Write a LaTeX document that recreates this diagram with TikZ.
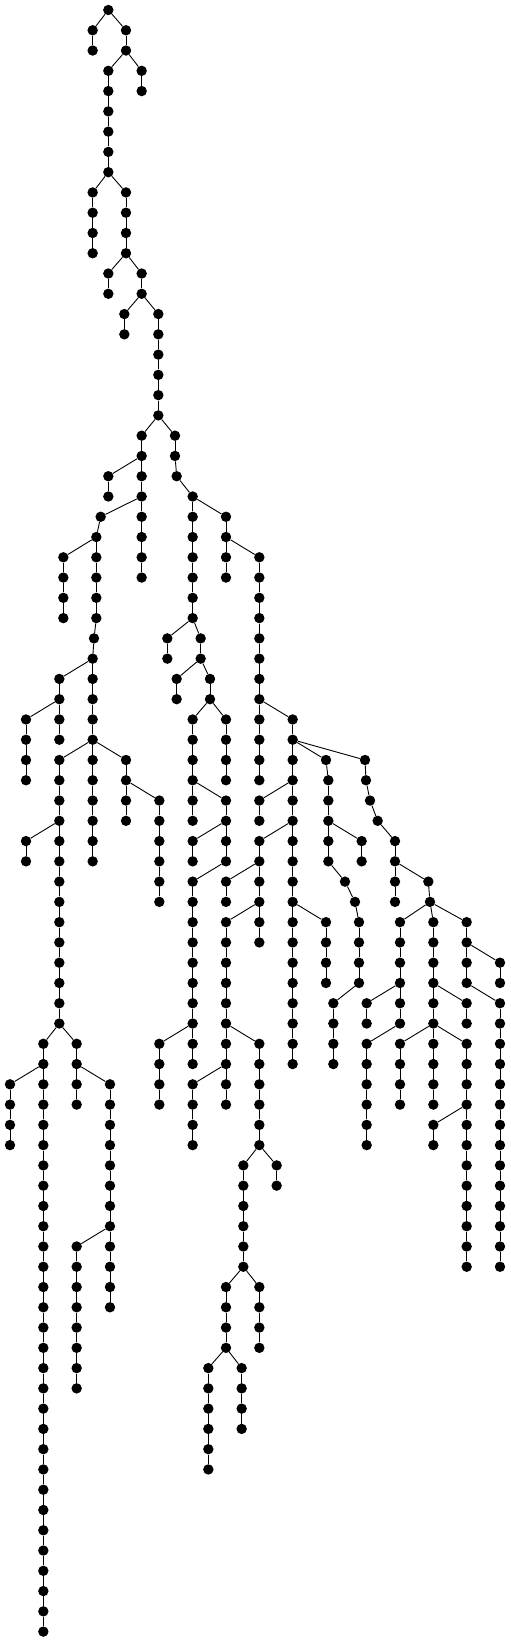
\documentclass[tikz,border=0pt]{standalone}
\begin{document}
\tikzset{
  dot/.style={circle,fill=black,draw=none,inner sep=0pt,minimum size=10.4pt},
  edge/.style={line width=0.9pt,black}
}
\newcommand\seg[5]{%
  \foreach \l in {#3,...,#4}{\node[dot] (#1r\l) at ({#2/3},{10+20.27*\l}) {};}%
  \foreach \l in {#3,...,#4}{\ifnum\l>#3\relax\pgfmathtruncatemacro\p{\l-1}\draw[edge] (#1r\p) -- (#1r\l);\fi}%
  \draw[edge] (#5) -- (#1r#3);%
}
\begin{tikzpicture}[x=1pt,y=-1pt]
\useasboundingbox (0,0) rectangle (511,1642);
\node[dot] (Rr0) at ({325/3},10) {};
\seg{A}{278}{1}{2}{Rr0}
\seg{B}{378}{1}{2}{Rr0}
\seg{C}{325}{3}{8}{Br2}
\seg{D}{425}{3}{4}{Br2}
\seg{E}{278}{9}{12}{Cr8}
\seg{F}{378}{9}{12}{Cr8}
\seg{G}{325}{13}{14}{Fr12}
\seg{H}{425}{13}{14}{Fr12}
\seg{I}{373}{15}{16}{Hr14}
\seg{J}{475}{15}{20}{Hr14}
\seg{K}{425}{21}{22}{Jr20}
\seg{L}{525}{21}{22}{Jr20}
\seg{M}{325}{23}{24}{Kr22}
\seg{N}{425}{23}{28}{Kr22}
\seg{O}{302}{25}{25}{Nr24}
\seg{P}{289}{26}{30}{Or25}
\seg{Q}{190}{27}{30}{Pr26}
\seg{S}{282}{31}{31}{Pr30}
\seg{T}{278}{32}{36}{Sr31}
\seg{U}{178}{33}{36}{Tr32}
\seg{V}{78}{35}{38}{Ur34}
\seg{W}{178}{37}{50}{Tr36}
\seg{X}{78}{41}{42}{Wr40}
\seg{Y}{130}{51}{80}{Wr50}
\seg{Z}{30}{53}{56}{Yr52}
\seg{AA}{230}{51}{54}{Wr50}
\seg{AB}{330}{53}{64}{AAr52}
\seg{AC}{230}{61}{68}{ABr60}
\seg{AD}{278}{37}{42}{Tr36}
\seg{AE}{378}{37}{40}{Tr36}
\seg{AF}{478}{39}{44}{AEr38}
\seg{AG}{530}{23}{23}{Lr22}
\seg{AH}{578}{24}{30}{AGr23}
\seg{AI}{502}{31}{32}{AHr30}
\seg{AJ}{602}{31}{32}{AHr30}
\seg{AK}{530}{33}{34}{AJr32}
\seg{AL}{630}{33}{34}{AJr32}
\seg{AM}{578}{35}{40}{ALr34}
\seg{AN}{678}{35}{38}{ALr34}
\seg{AO}{678}{39}{42}{AMr38}
\seg{AP}{578}{41}{42}{AOr40}
\seg{AQ}{578}{43}{52}{AOr42}
\seg{AR}{478}{51}{54}{AQr50}
\seg{AS}{678}{25}{28}{AHr24}
\seg{AT}{778}{27}{38}{ASr26}
\seg{AU}{878}{35}{52}{ATr34}
\seg{AV}{778}{39}{40}{AUr38}
\seg{AW}{778}{41}{46}{AUr40}
\seg{AX}{678}{43}{44}{AWr42}
\seg{AY}{678}{45}{54}{AWr44}
\seg{AZ}{778}{51}{56}{AYr50}
\seg{BA}{578}{53}{56}{AYr52}
\seg{BB}{730}{57}{62}{AZr56}
\seg{BC}{830}{57}{58}{AZr56}
\seg{BD}{678}{63}{66}{BBr62}
\seg{BE}{778}{63}{66}{BBr62}
\seg{BF}{625}{67}{72}{BDr66}
\seg{BG}{725}{67}{70}{BDr66}
\seg{BH}{978}{45}{48}{AUr44}
\seg{BI}{978}{37}{37}{AUr36}
\seg{BJ}{985}{38}{42}{BIr37}
\seg{BK}{1085}{41}{42}{BJr40}
\seg{BL}{1035}{43}{43}{BJr42}
\seg{BM}{1065}{44}{44}{BLr43}
\seg{BN}{1077}{45}{48}{BMr44}
\seg{BO}{1000}{49}{52}{BNr48}
\seg{BP}{1095}{37}{37}{AUr36}
\seg{BQ}{1098}{38}{38}{BPr37}
\seg{BR}{1110}{39}{39}{BQr38}
\seg{BS}{1133}{40}{40}{BRr39}
\seg{BT}{1185}{41}{44}{BSr40}
\seg{BU}{1285}{43}{43}{BTr42}
\seg{BV}{1290}{44}{44}{BUr43}
\seg{BW}{1200}{45}{50}{BVr44}
\seg{BX}{1100}{49}{50}{BWr48}
\seg{BY}{1100}{51}{56}{BWr50}
\seg{BZ}{1300}{45}{54}{BVr44}
\seg{CA}{1400}{49}{50}{BZr48}
\seg{CB}{1200}{51}{54}{BZr50}
\seg{CC}{1400}{51}{62}{BZr50}
\seg{CD}{1300}{55}{56}{CCr54}
\seg{CE}{1400}{45}{48}{BVr44}
\seg{CF}{1500}{47}{48}{CEr46}
\seg{CG}{1500}{49}{62}{CEr48}
\end{tikzpicture}
\end{document}
